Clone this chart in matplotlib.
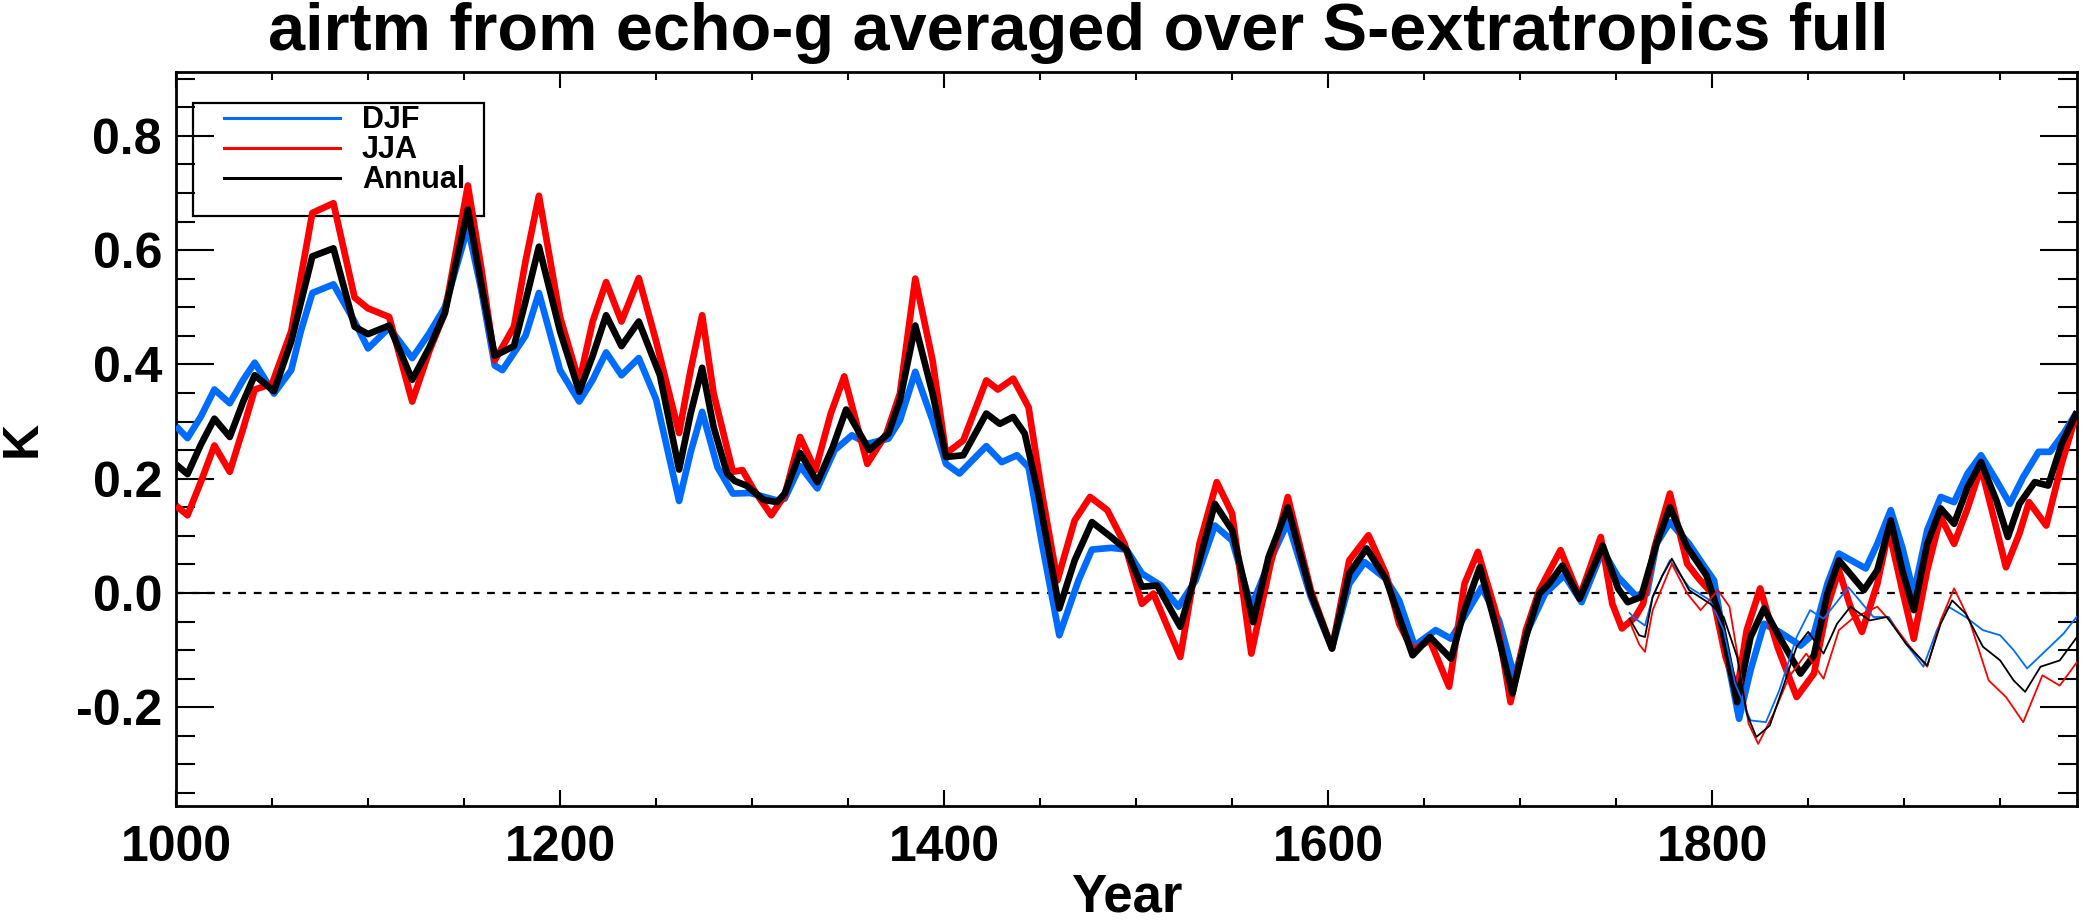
import matplotlib
matplotlib.use("Agg")
import matplotlib.pyplot as plt
from matplotlib.lines import Line2D
from matplotlib.patches import Rectangle
from matplotlib.ticker import MultipleLocator

plt.rcParams['font.family'] = ['Liberation Sans', 'DejaVu Sans']
plt.rcParams['font.weight'] = 'bold'

BLUE = '#006cff'
RED = '#ff0000'

# 30-yr filtered series, full period (thick lines)
ann_years = [1000, 1006, 1013, 1020, 1028, 1035, 1041, 1051, 1060, 1071, 1082, 1093, 1100,
             1111, 1123, 1132, 1140, 1152, 1159, 1166, 1176, 1182, 1189, 1200, 1210, 1217,
             1224, 1232, 1241, 1252, 1262, 1268, 1274, 1280, 1287, 1291, 1297, 1306, 1313,
             1317, 1325, 1334, 1342, 1349, 1361, 1371, 1377, 1385, 1394, 1401, 1410, 1422,
             1429, 1436, 1442, 1449, 1460, 1468, 1477, 1487, 1495, 1503, 1511, 1523, 1533,
             1541, 1550, 1561, 1569, 1579, 1591, 1602, 1611, 1620, 1630, 1637, 1644, 1653,
             1664, 1671, 1679, 1687, 1696, 1703, 1710, 1715, 1722, 1731, 1743, 1751, 1756,
             1763, 1771, 1778, 1787, 1797, 1804, 1813, 1820, 1827, 1835, 1846, 1853, 1860,
             1866, 1879, 1886, 1893, 1899, 1905, 1912, 1919, 1926, 1933, 1940, 1948, 1954,
             1960, 1968, 1975, 1982, 1990]
ann_vals = [0.225, 0.208, 0.26, 0.305, 0.273, 0.335, 0.381, 0.353, 0.44, 0.589, 0.603, 0.466,
            0.453, 0.468, 0.373, 0.43, 0.49, 0.671, 0.54, 0.415, 0.432, 0.51, 0.606, 0.458,
            0.352, 0.415, 0.486, 0.432, 0.475, 0.381, 0.216, 0.314, 0.394, 0.29, 0.209, 0.196,
            0.188, 0.163, 0.159, 0.174, 0.245, 0.194, 0.255, 0.321, 0.25, 0.279, 0.337, 0.468,
            0.349, 0.238, 0.241, 0.314, 0.296, 0.308, 0.279, 0.174, -0.027, 0.057, 0.124,
            0.098, 0.075, 0.011, 0.013, -0.059, 0.057, 0.156, 0.11, -0.051, 0.063, 0.15,
            -0.001, -0.097, 0.034, 0.078, 0.025, -0.042, -0.109, -0.077, -0.115, -0.03, 0.045,
            -0.054, -0.176, -0.077, -0.001, 0.016, 0.048, -0.01, 0.083, 0.008, -0.016, -0.007,
            0.086, 0.15, 0.08, 0.031, -0.042, -0.191, -0.077, -0.027, -0.077, -0.141, -0.109,
            -0.001, 0.057, 0.005, 0.04, 0.127, 0.04, -0.03, 0.086, 0.148, 0.121, 0.185, 0.229,
            0.162, 0.098, 0.156, 0.194, 0.188, 0.261, 0.317]

djf_years = [1000, 1006, 1013, 1020, 1028, 1035, 1041, 1051, 1060, 1065, 1071, 1082, 1093,
             1100, 1111, 1123, 1132, 1140, 1152, 1159, 1166, 1170, 1182, 1189, 1200, 1210,
             1217, 1224, 1232, 1241, 1250, 1262, 1268, 1274, 1282, 1290, 1299, 1313, 1317,
             1325, 1334, 1343, 1352, 1360, 1371, 1377, 1385, 1394, 1401, 1408, 1422, 1430,
             1438, 1444, 1451, 1460, 1470, 1477, 1487, 1495, 1503, 1513, 1522, 1531, 1541,
             1550, 1560, 1569, 1579, 1591, 1602, 1611, 1619, 1630, 1637, 1645, 1656, 1664,
             1673, 1680, 1689, 1697, 1704, 1713, 1723, 1732, 1743, 1751, 1760, 1766, 1771,
             1778, 1788, 1795, 1801, 1807, 1814, 1820, 1827, 1835, 1846, 1853, 1860, 1866,
             1880, 1886, 1893, 1899, 1905, 1912, 1919, 1926, 1933, 1940, 1948, 1955, 1962,
             1970, 1976, 1983, 1990]
djf_vals = [0.292, 0.271, 0.309, 0.356, 0.332, 0.373, 0.403, 0.349, 0.39, 0.458, 0.525, 0.54,
            0.475, 0.428, 0.464, 0.411, 0.455, 0.5, 0.64, 0.53, 0.398, 0.39, 0.45, 0.525,
            0.39, 0.335, 0.373, 0.421, 0.381, 0.411, 0.339, 0.161, 0.246, 0.317, 0.22, 0.174,
            0.175, 0.162, 0.165, 0.222, 0.183, 0.25, 0.276, 0.261, 0.27, 0.302, 0.387, 0.302,
            0.226, 0.209, 0.257, 0.229, 0.241, 0.22, 0.086, -0.074, 0.022, 0.076, 0.079,
            0.076, 0.034, 0.013, -0.024, 0.022, 0.118, 0.092, -0.024, 0.051, 0.124, -0.007,
            -0.097, 0.016, 0.054, 0.025, -0.013, -0.092, -0.065, -0.08, -0.03, 0.01, -0.048,
            -0.147, -0.065, -0.001, 0.031, -0.016, 0.075, 0.028, -0.004, -0.001, 0.086, 0.124,
            0.086, 0.051, 0.022, -0.1, -0.22, -0.135, -0.054, -0.068, -0.092, -0.071, 0.016,
            0.069, 0.043, 0.086, 0.145, 0.08, -0.001, 0.11, 0.168, 0.159, 0.209, 0.241, 0.197,
            0.156, 0.203, 0.247, 0.247, 0.279, 0.317]

jja_years = [1000, 1006, 1013, 1020, 1028, 1035, 1041, 1050, 1060, 1071, 1082, 1093, 1100,
             1111, 1123, 1132, 1140, 1152, 1159, 1166, 1176, 1182, 1189, 1200, 1210, 1217,
             1224, 1232, 1241, 1250, 1262, 1268, 1274, 1280, 1290, 1295, 1301, 1310, 1317,
             1325, 1333, 1341, 1348, 1360, 1370, 1377, 1385, 1394, 1401, 1410, 1422, 1428,
             1436, 1444, 1451, 1459, 1468, 1476, 1485, 1494, 1503, 1509, 1523, 1533, 1542,
             1550, 1560, 1570, 1579, 1591, 1602, 1611, 1621, 1630, 1637, 1644, 1653, 1663,
             1671, 1678, 1687, 1695, 1703, 1710, 1721, 1731, 1742, 1748, 1753, 1760, 1764,
             1770, 1778, 1787, 1793, 1800, 1807, 1813, 1818, 1825, 1834, 1844, 1853, 1860,
             1866, 1872, 1878, 1886, 1892, 1899, 1905, 1912, 1919, 1926, 1933, 1940, 1947,
             1953, 1960, 1965, 1974, 1982, 1990]
jja_vals = [0.153, 0.136, 0.195, 0.258, 0.212, 0.288, 0.356, 0.366, 0.458, 0.665, 0.682,
            0.517, 0.498, 0.483, 0.335, 0.424, 0.49, 0.713, 0.568, 0.407, 0.466, 0.58, 0.695,
            0.483, 0.369, 0.475, 0.544, 0.475, 0.551, 0.441, 0.28, 0.39, 0.486, 0.349, 0.212,
            0.215, 0.18, 0.136, 0.171, 0.273, 0.215, 0.314, 0.379, 0.226, 0.279, 0.349, 0.55,
            0.407, 0.244, 0.267, 0.372, 0.356, 0.375, 0.325, 0.174, 0.022, 0.127, 0.168,
            0.145, 0.086, -0.019, -0.001, -0.112, 0.086, 0.194, 0.139, -0.106, 0.051, 0.168,
            0.005, -0.097, 0.057, 0.101, 0.034, -0.054, -0.1, -0.083, -0.164, 0.016, 0.072,
            -0.03, -0.191, -0.065, 0.005, 0.075, -0.007, 0.098, -0.019, -0.062, -0.042,
            -0.019, 0.08, 0.174, 0.051, 0.025, -0.001, -0.112, -0.17, -0.065, 0.008, -0.094,
            -0.182, -0.141, -0.024, 0.04, -0.024, -0.068, 0.016, 0.11, 0.005, -0.08, 0.04,
            0.133, 0.086, 0.148, 0.22, 0.127, 0.045, 0.104, 0.159, 0.118, 0.226, 0.317]

# second run, from mid 18th century (thin lines)
djf2_years = [1757, 1760, 1765, 1769, 1774, 1778, 1788, 1799, 1806, 1812, 1820, 1828, 1835,
              1844, 1851, 1858, 1871, 1884, 1892, 1901, 1910, 1917, 1923, 1932, 1941, 1950,
              1957, 1964, 1974, 1983, 1990]
djf2_vals = [-0.035, -0.045, -0.057, -0.007, 0.03, 0.057, 0.01, -0.013, -0.065, -0.159,
             -0.223, -0.226, -0.17, -0.077, -0.03, -0.045, 0.01, -0.042, -0.042, -0.089,
             -0.129, -0.065, -0.024, -0.042, -0.065, -0.074, -0.1, -0.132, -0.1, -0.071,
             -0.041]

ann2_years = [1757, 1762, 1765, 1769, 1774, 1779, 1788, 1799, 1806, 1813, 1818, 1823, 1830,
              1837, 1844, 1850, 1858, 1865, 1872, 1882, 1891, 1901, 1912, 1919, 1925, 1932,
              1941, 1950, 1957, 1963, 1971, 1981, 1990]
ann2_vals = [-0.045, -0.074, -0.077, -0.007, 0.03, 0.06, 0.005, -0.019, -0.042, -0.112,
             -0.211, -0.252, -0.232, -0.164, -0.094, -0.068, -0.106, -0.054, -0.024, -0.048,
             -0.042, -0.089, -0.127, -0.054, -0.013, -0.036, -0.094, -0.118, -0.153, -0.173,
             -0.129, -0.118, -0.077]

jja2_years = [1757, 1762, 1765, 1769, 1774, 1779, 1787, 1794, 1803, 1809, 1814, 1819, 1824,
              1832, 1840, 1849, 1858, 1866, 1873, 1886, 1894, 1903, 1912, 1919, 1926, 1934,
              1944, 1953, 1962, 1972, 1981, 1990]
jja2_vals = [-0.05, -0.09, -0.103, -0.03, 0.01, 0.051, -0.001, -0.03, 0.005, -0.024, -0.124,
             -0.229, -0.264, -0.211, -0.147, -0.106, -0.15, -0.065, -0.045, -0.024, -0.054,
             -0.094, -0.129, -0.048, 0.008, -0.048, -0.153, -0.182, -0.226, -0.144, -0.162,
             -0.121]

fig = plt.figure(figsize=(20.81, 9.24), dpi=100)
ax = fig.add_axes([176 / 2081, 1 - 806 / 924, (2077 - 176) / 2081, (806 - 72) / 924])

ax.axhline(0, color='black', lw=1.6, ls=(0, (3.5, 3.5)), zorder=1)

thick = dict(lw=4.8, solid_joinstyle='round', solid_capstyle='butt', zorder=3)
ax.plot(djf_years, djf_vals, color=BLUE, **thick)
ax.plot(jja_years, jja_vals, color=RED, **thick)
ax.plot(ann_years, ann_vals, color='black', **thick)

thin = dict(lw=1.3, solid_joinstyle='round', zorder=3)
ax.plot(djf2_years, djf2_vals, color=BLUE, **thin)
ax.plot(jja2_years, jja2_vals, color=RED, **thin)
ax.plot(ann2_years, ann2_vals, color='black', **thin)

ax.set_xlim(1000, 1990)
ax.set_ylim(-0.3727, 0.9116)
ax.xaxis.set_major_locator(MultipleLocator(200))
ax.xaxis.set_minor_locator(MultipleLocator(50))
ax.yaxis.set_major_locator(MultipleLocator(0.2))
ax.yaxis.set_minor_locator(MultipleLocator(0.05))
ax.yaxis.set_major_formatter(plt.FormatStrFormatter('%.1f'))

ax.tick_params(axis='x', which='major', direction='in', length=11.5, width=1.5,
               top=True, labelsize=36, pad=14)
ax.tick_params(axis='x', which='minor', direction='in', length=5.8, width=1.5, top=True)
ax.tick_params(axis='y', which='major', direction='in', length=27, width=1.5,
               right=True, labelsize=36, pad=10)
ax.tick_params(axis='y', which='minor', direction='in', length=13.5, width=1.5, right=True)
for s in ax.spines.values():
    s.set_linewidth(2)

ax.set_xlabel('Year', fontsize=38, fontweight='bold', va='bottom')
ax.xaxis.set_label_coords(0.5, (806 - 922) / 734)
ax.set_ylabel('K', fontsize=36, fontweight='bold', labelpad=22)

fig.text(1078 / 2081, 1 - 2 / 924, 'airtm from echo-g averaged over S-extratropics full',
         ha='center', va='top', fontsize=48, fontweight='bold')

# legend: box drawn separately so side padding can differ from top/bottom,
# kept underneath the curves like in the original
ax.add_patch(Rectangle((0.00894, 0.8038), 0.1531, 0.154, transform=ax.transAxes,
                       facecolor='none', edgecolor='black', lw=1.6, zorder=1.5))
handles = [Line2D([], [], color=BLUE, lw=2.2),
           Line2D([], [], color=RED, lw=2.2),
           Line2D([], [], color='black', lw=2.2)]
leg = ax.legend(handles, ['DJF', 'JJA', 'Annual'], loc='upper left',
                bbox_to_anchor=(0.0252, 0.9545), borderaxespad=0, borderpad=0,
                fontsize=22, handlelength=3.8, handletextpad=0.72, labelspacing=0.0,
                frameon=False)
leg.set_zorder(2)
for t in leg.get_texts():
    t.set_fontweight('bold')

fig.savefig('out.png', dpi=100)
